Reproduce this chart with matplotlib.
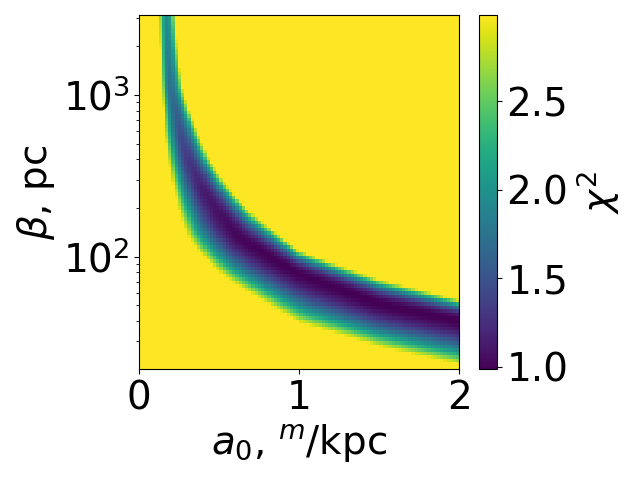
import numpy as np
import matplotlib
matplotlib.use("Agg")
import matplotlib.pyplot as plt

# ---- values ----
# valley (best-fit) line: a0 [m/kpc] vs beta [pc]
a0_center = [0.17, 0.18, 0.19, 0.223, 0.26, 0.306, 0.38, 0.484, 0.63, 0.81,
             1.0, 1.5, 2.0]
beta_center = [3130, 1645, 1100, 807, 550, 396, 280, 194, 130, 100,
               78, 51, 40]
# minimal chi2 along the valley, at the beta values below
beta_min_pts = [3130, 1020, 700, 500, 344, 245, 169, 115, 75, 52, 41]
chi2_min = [1.95, 1.7, 1.55, 1.4, 1.25, 1.12, 1.05, 1.0, 0.99, 0.986, 0.986]
# upper (right) edge of the band, where chi2 reaches the top of the scale
a0_upper = [0.22, 0.235, 0.25, 0.27, 0.31, 0.36, 0.44, 0.53, 0.68, 0.86,
            1.0, 1.5, 2.0]
beta_upper = [3130, 2000, 1500, 1100, 807, 600, 396, 290, 194, 140,
              108, 72, 54]
# lower (left) edge of the band
a0_lower = [0.12, 0.128, 0.136, 0.146, 0.158, 0.181, 0.205, 0.245, 0.30, 0.36,
            0.42, 0.50, 0.589, 0.69, 1.0, 1.5, 2.0]
beta_lower = [3130, 2000, 1300, 900, 600, 396, 290, 194, 135, 110,
              95.4, 80, 68.4, 59.4, 39, 27.7, 21.4]
chi2_edge = 3.0
power_upper = 2.2
power_lower = 1.8

a0_lim = (0.0, 2.0)
beta_lim = (20.1, 3127.0)
chi2_lim = (0.986, 2.986)
n_cells = 100

cbar_ticks = [1.0, 1.5, 2.0, 2.5]
x_ticks = [0, 1, 2]

# ---- grid ----
a0_edges = np.linspace(a0_lim[0], a0_lim[1], n_cells + 1)
logb_edges = np.linspace(np.log10(beta_lim[0]), np.log10(beta_lim[1]), n_cells + 1)
beta_edges = 10 ** logb_edges
a0_c = 0.5 * (a0_edges[1:] + a0_edges[:-1])
logb_c = 0.5 * (logb_edges[1:] + logb_edges[:-1])
A, LB = np.meshgrid(a0_c, logb_c)

sx, sy = 160.0, 161.7  # pixel scale per unit a0 / per decade
X = A.ravel() * sx
Y = LB.ravel() * sy


def signed_dist(px, py):
    px = np.asarray(px) * sx
    py = np.log10(np.asarray(py)) * sy
    best = np.full(X.shape, np.inf)
    sgn = np.ones(X.shape)
    for i in range(len(px) - 1):
        ax_, ay_ = px[i], py[i]
        dx, dy = px[i + 1] - ax_, py[i + 1] - ay_
        t = np.clip(((X - ax_) * dx + (Y - ay_) * dy) / (dx * dx + dy * dy), 0, 1)
        d = np.hypot(X - (ax_ + t * dx), Y - (ay_ + t * dy))
        cr = dx * (Y - ay_) - dy * (X - ax_)
        upd = d < best
        best[upd] = d[upd]
        sgn[upd] = np.where(cr[upd] >= 0, 1.0, -1.0)
    return best * sgn


sc = signed_dist(a0_center, beta_center)
su = signed_dist(a0_upper, beta_upper)
sl = signed_dist(a0_lower, beta_lower)

with np.errstate(divide="ignore", invalid="ignore"):
    s_up = np.where(su < 0, sc / (sc - su), 2.0)
    s_lo = np.where(sl > 0, -sc / (-sc + sl), 2.0)
s_up = np.nan_to_num(s_up, nan=0.0)
s_lo = np.nan_to_num(s_lo, nan=0.0)
frac = np.where(sc >= 0, s_up ** power_upper, s_lo ** power_lower)

lm = np.log10(beta_min_pts)
m = np.interp(Y / sy, lm[::-1], np.asarray(chi2_min)[::-1])
chi2 = m + (chi2_edge - m) * frac
chi2 = np.minimum(chi2, chi2_lim[1]).reshape(A.shape)

# ---- plot ----
plt.rcParams["font.size"] = 28
fig = plt.figure(figsize=(6.4, 4.8), dpi=100)
ax = fig.add_axes([0.2177, 0.2306, 0.5, 0.738])
cax = fig.add_axes([0.749, 0.2306, 0.0272, 0.738])

mesh = ax.pcolormesh(a0_edges, beta_edges, chi2, cmap="viridis",
                     vmin=chi2_lim[0], vmax=chi2_lim[1], shading="flat")
ax.set_yscale("log")
ax.set_xlim(*a0_lim)
ax.set_ylim(*beta_lim)
ax.set_xticks(x_ticks)
ax.set_xlabel(r"$a_0$, $^m$/kpc")
ax.set_ylabel(r"$\beta$, pc")

cb = fig.colorbar(mesh, cax=cax)
cb.set_ticks(cbar_ticks)
cb.set_label(r"$\chi^2$")

fig.savefig("out.png", dpi=100)
